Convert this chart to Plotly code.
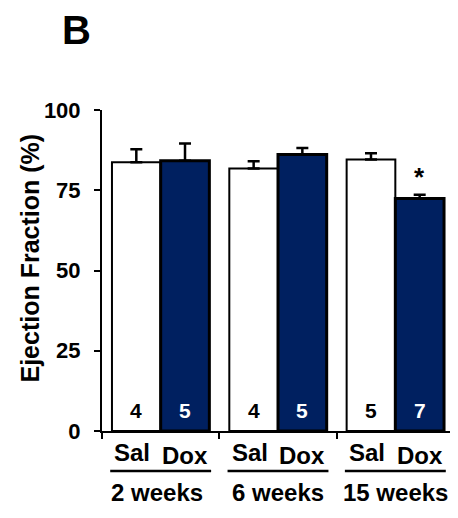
import plotly.graph_objects as go

groups = ["2 weeks", "6 weeks", "15 weeks"]
sal_values = [83.7, 81.8, 84.6]
sal_err = [4.1, 2.2, 1.9]
dox_values = [84.2, 86.1, 72.4]
dox_err = [5.4, 2.1, 1.2]
sal_n = ["4", "4", "5"]
dox_n = ["5", "5", "7"]
yticks = [0, 25, 50, 75, 100]

NAVY = "#002060"
FONT = "Liberation Sans, Arial, sans-serif"

fig = go.Figure()
fig.add_trace(go.Bar(
    x=groups, y=sal_values, name="Sal",
    marker=dict(color="white", line=dict(color="black", width=2)),
    error_y=dict(type="data", symmetric=False, array=sal_err, arrayminus=[0]*3,
                 color="black", thickness=2.5, width=6),
))
fig.add_trace(go.Bar(
    x=groups, y=dox_values, name="Dox",
    marker=dict(color=NAVY, line=dict(color="black", width=3)),
    error_y=dict(type="data", symmetric=False, array=dox_err, arrayminus=[0]*3,
                 color="black", thickness=2.5, width=6),
))

annotations = []
off = 0.2075  # bar center offset within group (fraction of category)
for i, g in enumerate(groups):
    annotations.append(dict(x=i - off, y=6.3, xref="x", yref="y", text=sal_n[i],
                            showarrow=False, font=dict(family=FONT, size=21, color="black", weight="bold")))
    annotations.append(dict(x=i + off, y=6.3, xref="x", yref="y", text=dox_n[i],
                            showarrow=False, font=dict(family=FONT, size=21, color="white", weight="bold")))
    annotations.append(dict(x=i - off, y=0, xref="x", yref="paper", yshift=-21, xshift=-4,
                            text="Sal", showarrow=False, yanchor="middle",
                            font=dict(family=FONT, size=24, color="black", weight="bold")))
    annotations.append(dict(x=i + off, y=0, xref="x", yref="paper", yshift=-24,
                            text="Dox", showarrow=False, yanchor="middle",
                            font=dict(family=FONT, size=24, color="black", weight="bold")))
    annotations.append(dict(x=i, y=0, xref="x", yref="paper", yshift=-61,
                            xshift=(-4 if i == 0 else 0),
                            text=g, showarrow=False, yanchor="middle",
                            font=dict(family=FONT, size=24, color="black", weight="bold")))

# significance asterisk
annotations.append(dict(x=2 + off, y=dox_values[2] + dox_err[2], xref="x", yref="y", yshift=18,
                        text="*", showarrow=False, yanchor="middle",
                        font=dict(family=FONT, size=26, color="black", weight="bold")))
# panel letter
annotations.append(dict(x=0, y=1, xref="paper", yref="paper", xshift=-26, yshift=80,
                        text="B", showarrow=False, xanchor="center", yanchor="middle",
                        font=dict(family=FONT, size=40, color="black", weight="bold")))
# y-axis title
annotations.append(dict(x=0, y=0.5, xref="paper", yref="paper", xshift=-73, yshift=12,
                        text="Ejection Fraction (%)", textangle=-90, showarrow=False,
                        xanchor="center", yanchor="middle",
                        font=dict(family=FONT, size=25, color="black", weight="bold")))

shapes = []
for i in range(len(groups)):
    shapes.append(dict(type="line", xref="x", yref="paper", x0=i - 0.43, x1=i + 0.43,
                       ysizemode="pixel", yanchor=0, y0=-40, y1=-40,
                       line=dict(color="black", width=2.5)))

fig.update_layout(
    width=450, height=510,
    margin=dict(l=94, r=4, t=102, b=87),
    paper_bgcolor="white", plot_bgcolor="white",
    barmode="group", bargap=0.17, bargroupgap=0,
    showlegend=False,
    annotations=annotations, shapes=shapes,
    font=dict(family=FONT, color="black"),
)
fig.update_xaxes(
    range=[-0.5, 2.5], showticklabels=False, showgrid=False, zeroline=False,
    showline=True, linecolor="black", linewidth=2,
    ticks="outside", tickson="boundaries", ticklen=6, tickwidth=2, tickcolor="black",
)
fig.update_yaxes(
    range=[0, 100], tickvals=yticks, ticktext=[str(v) for v in yticks],
    showgrid=False, zeroline=False,
    showline=True, linecolor="black", linewidth=2,
    ticks="outside", ticklen=6, tickwidth=2, tickcolor="black",
    ticklabelstandoff=9,
    tickfont=dict(family=FONT, size=22, color="black", weight="bold"),
)

fig.write_html("out.html")
